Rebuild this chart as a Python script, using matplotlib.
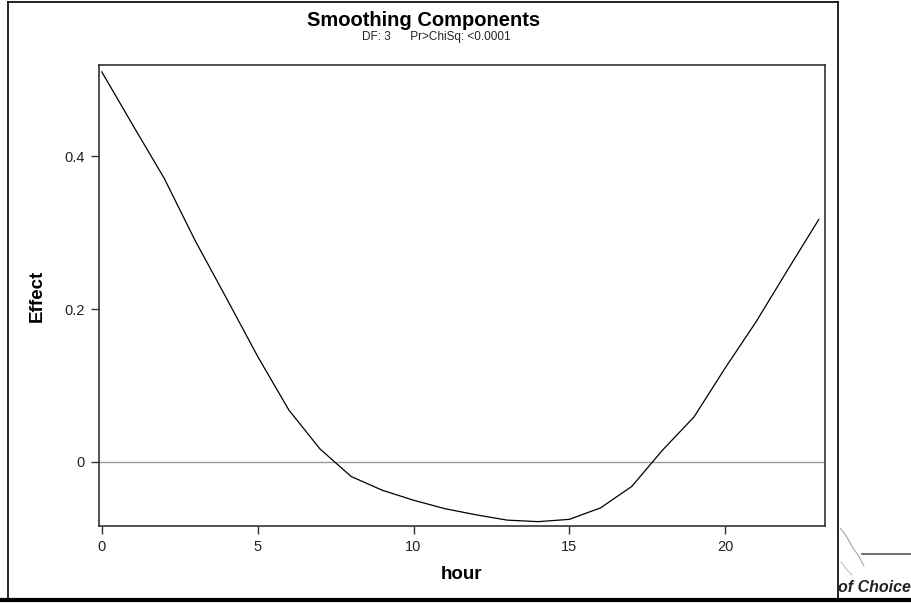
import numpy as np
import matplotlib
matplotlib.use('Agg')
import matplotlib.pyplot as plt
from matplotlib.lines import Line2D

plt.rcParams['font.family'] = ['Liberation Sans', 'DejaVu Sans']

# smoothing component effect by hour
hour = [0, 1, 2, 3, 4, 5, 6, 7, 8, 9, 10, 11, 12, 13, 14, 15, 16, 17,
        18, 19, 20, 21, 22, 23]
effect = [0.510, 0.440, 0.371, 0.289, 0.214, 0.138, 0.068, 0.017,
          -0.019, -0.037, -0.050, -0.061, -0.069, -0.076, -0.078, -0.075,
          -0.060, -0.032, 0.016, 0.059, 0.123, 0.184, 0.251, 0.317]

x_ticks = [0, 5, 10, 15, 20]
y_ticks = [0, 0.2, 0.4]
y_ticklabels = ['0', '0.2', '0.4']

W, H = 912, 603
fig = plt.figure(figsize=(W / 100, H / 100), dpi=100)
ax = fig.add_axes([99 / W, 1 - 526 / H, (825 - 99) / W, (526 - 65) / H])

ax.axhline(0, color='#999999', lw=1.0, zorder=1)
ax.plot(hour, effect, color='black', lw=0.9, zorder=2)

ax.set_xlim(-0.09, 23.2)
ax.set_ylim(-0.0837, 0.519)
ax.set_xticks(x_ticks)
ax.set_yticks(y_ticks)
ax.set_yticklabels(y_ticklabels)
ax.tick_params(direction='out', length=6, width=1, color='#333333',
               labelsize=10.5, labelcolor='#222222', pad=4)
for s in ax.spines.values():
    s.set_color('#333333')
    s.set_linewidth(1.2)

ax.set_xlabel('hour', fontsize=13.5, fontweight='bold', labelpad=9)
ax.set_ylabel('Effect', fontsize=13.5, fontweight='bold', labelpad=14)

fig.text(424 / W, 1 - 21 / H, 'Smoothing Components', ha='center', va='center',
         fontsize=14.5, fontweight='bold')
fig.text(362 / W, 1 - 37 / H, 'DF: 3      Pr>ChiSq: <0.0001', ha='left',
         va='center', fontsize=8.5, color='#222222')

# outer frame
fig.add_artist(Line2D([8 / W, 8 / W], [1 - 600 / H, 1 - 2 / H], color='black', lw=1.2))
fig.add_artist(Line2D([8 / W, 838 / W], [1 - 2 / H, 1 - 2 / H], color='black', lw=1.2))
fig.add_artist(Line2D([838 / W, 838 / W], [1 - 600 / H, 1 - 2 / H], color='black', lw=1.2))
fig.add_artist(Line2D([0, 1], [1 - 600 / H, 1 - 600 / H], color='black', lw=3))

# partial logo at the right edge
fig.add_artist(Line2D([862 / W, 1], [1 - 554 / H, 1 - 554 / H], color='#555555', lw=1.2))
fig.add_artist(Line2D([840 / W, 845 / W, 849 / W, 853 / W, 858 / W, 864 / W],
                      [1 - 528 / H, 1 - 534 / H, 1 - 541 / H, 1 - 548 / H, 1 - 555 / H, 1 - 566 / H],
                      color='#8fa08f', lw=0.7))
fig.add_artist(Line2D([841 / W, 847 / W, 852 / W],
                      [1 - 562 / H, 1 - 570 / H, 1 - 575 / H],
                      color='#a8b8a8', lw=0.6))
fig.text(838 / W, 1 - 588 / H, 'of Choice', ha='left', va='center',
         fontsize=11.5, fontweight='bold', style='italic', color='#222222')

fig.savefig('out.png', dpi=100)
